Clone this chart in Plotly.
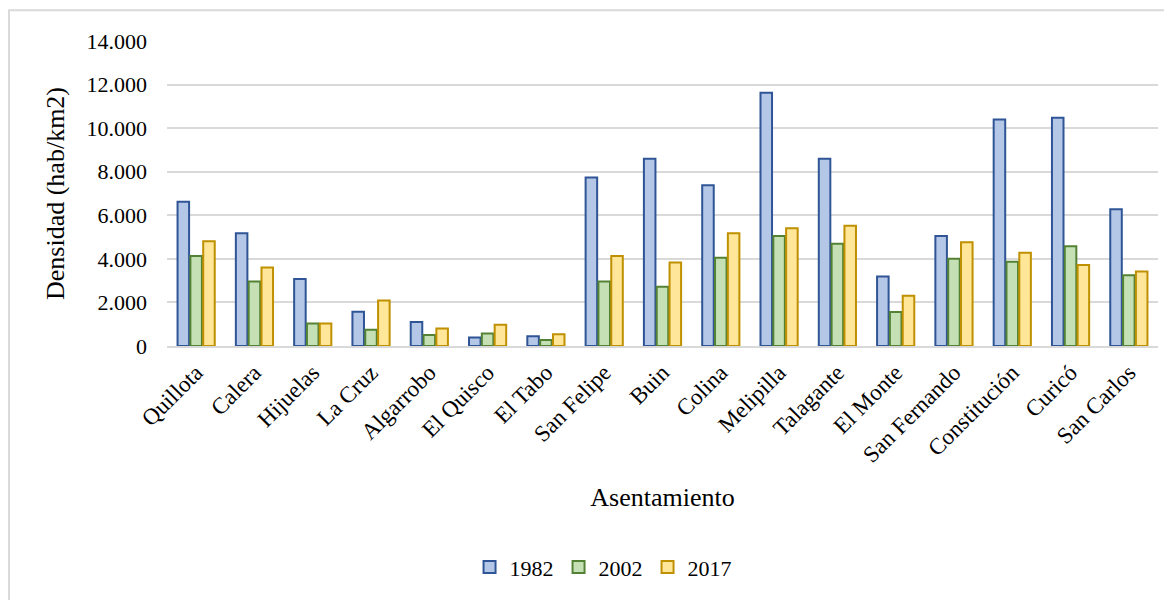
import plotly.graph_objects as go

# settlements and density values (hab/km2)
asentamientos = ["Quillota", "Calera", "Hijuelas", "La Cruz", "Algarrobo", "El Quisco",
                 "El Tabo", "San Felipe", "Buin", "Colina", "Melipilla", "Talagante",
                 "El Monte", "San Fernando", "Constitución", "Curicó", "San Carlos"]
d1982 = [6620, 5170, 3070, 1570, 1100, 390, 450, 7730, 8600, 7380, 11630, 8600,
         3190, 5050, 10400, 10480, 6280]
d2002 = [4130, 2960, 1030, 750, 500, 570, 270, 2960, 2720, 4050, 5050, 4690,
         1560, 4010, 3870, 4580, 3250]
d2017 = [4810, 3600, 1030, 2090, 800, 970, 540, 4130, 3830, 5170, 5410, 5520,
         2310, 4760, 4280, 3720, 3420]

series = [("1982", d1982, "#B4C7E7", "#2F5597"),
          ("2002", d2002, "#C5E0B4", "#548235"),
          ("2017", d2017, "#FFE699", "#BF9000")]

fig = go.Figure()
for name, vals, fill, edge in series:
  fig.add_trace(go.Bar(
    x=asentamientos, y=vals, name=name,
    marker=dict(color=fill, line=dict(color=edge, width=2))
  ))

serif = "Liberation Serif, Times New Roman, serif"

# page body has an 8px margin, so the figure is 8px smaller than the window
fig.update_layout(
  width=1164, height=592,
  margin=dict(l=159, r=14, t=33, b=251),
  paper_bgcolor="white", plot_bgcolor="white",
  separators=",.",
  font=dict(family=serif, size=22, color="#000000"),
  barmode="group", bargap=0.34, bargroupgap=0.1,
  showlegend=True,
  legend=dict(orientation="h", x=0.44, xanchor="center", y=-0.725, yanchor="middle",
              font=dict(family=serif, size=22), traceorder="normal", itemwidth=30),
  shapes=[dict(type="rect", xref="paper", yref="paper", x0=-0.1594, x1=1.05,
               y0=-0.9, y1=1.1006, line=dict(color="#D9D9D9", width=2))]
)

fig.update_yaxes(
  range=[0, 14000], dtick=2000, tickformat=",",
  tickfont=dict(family=serif, size=22), ticklabelstandoff=19,
  showgrid=True, gridcolor="#D9D9D9", gridwidth=2,
  zeroline=False, showline=False, ticks="",
  title=dict(text="Densidad (hab/km2)", font=dict(family=serif, size=26), standoff=14)
)
fig.update_xaxes(
  tickangle=-45, tickfont=dict(family=serif, size=23), ticklabelstandoff=2,
  showline=True, linecolor="#D9D9D9", linewidth=2, ticks="",
  title=dict(text="Asentamiento", font=dict(family=serif, size=26), standoff=21)
)

fig.write_html("out.html")
